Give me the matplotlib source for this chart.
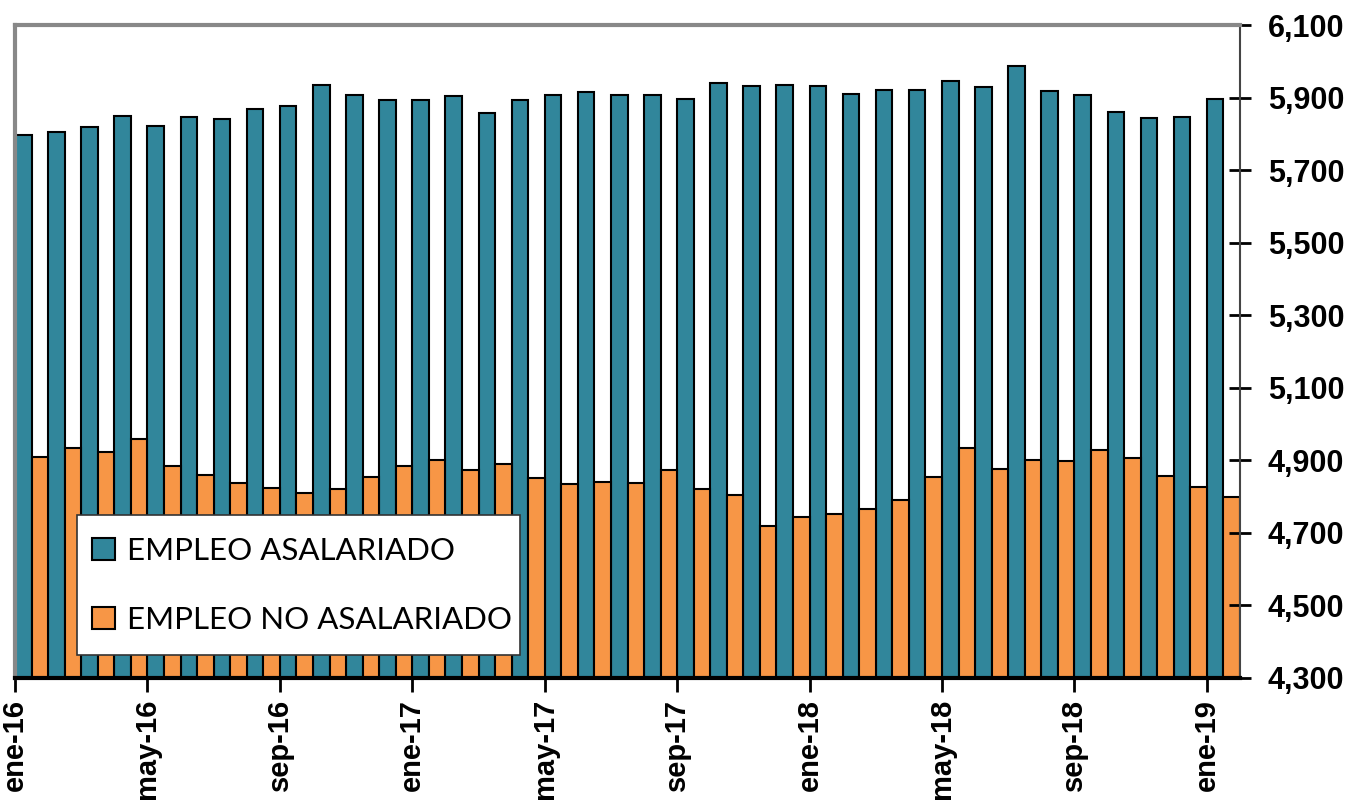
import numpy as np
import matplotlib.pyplot as plt
from matplotlib.patches import Rectangle
from matplotlib.ticker import FuncFormatter

meses = ['ene', 'feb', 'mar', 'abr', 'may', 'jun', 'jul', 'ago', 'sep', 'oct', 'nov', 'dic']
periodos = [f'{meses[i % 12]}-{16 + i // 12}' for i in range(37)]

asalariado = [5796, 5804, 5818, 5850, 5822, 5847, 5842, 5868, 5878, 5934,
              5906, 5893, 5893, 5903, 5857, 5893, 5906, 5914, 5906, 5906,
              5896, 5939, 5932, 5934, 5932, 5910, 5921, 5921, 5945, 5928,
              5987, 5918, 5906, 5861, 5843, 5847, 5896]
no_asalariado = [4909, 4933, 4923, 4958, 4884, 4859, 4838, 4823, 4809, 4820,
                 4853, 4884, 4900, 4873, 4891, 4851, 4834, 4841, 4837, 4872,
                 4820, 4805, 4720, 4744, 4752, 4766, 4791, 4854, 4935, 4876,
                 4900, 4897, 4928, 4907, 4857, 4826, 4800]

azul = '#31869B'
naranja = '#F79646'
y_min, y_max = 4300, 6100

fig = plt.figure(figsize=(13.55, 8.02), dpi=100)
ax = fig.add_axes([15 / 1355, 1 - 678 / 802, 1225 / 1355, 653 / 802])

x = np.arange(len(periodos))
ax.bar(x, np.array(asalariado) - y_min, bottom=y_min, width=0.5, align='edge',
       color=azul, edgecolor='black', linewidth=1.5, label='EMPLEO ASALARIADO')
ax.bar(x + 0.5, np.array(no_asalariado) - y_min, bottom=y_min, width=0.5, align='edge',
       color=naranja, edgecolor='black', linewidth=1.5, label='EMPLEO NO ASALARIADO')

ax.set_xlim(0, len(periodos))
ax.set_ylim(y_min, y_max)

# eje y a la derecha
ax.yaxis.tick_right()
ax.set_yticks(np.arange(y_min, y_max + 1, 200))
ax.yaxis.set_major_formatter(FuncFormatter(lambda v, p: f'{int(v):,}'))
ax.tick_params(axis='y', direction='inout', length=16, width=2, color='black',
               labelsize=22, pad=12)
for t in ax.get_yticklabels():
    t.set_fontweight('bold')
    t.set_family('Liberation Sans')

ax.set_xticks(x[::4])
ax.set_xticklabels(periodos[::4], rotation=90, fontsize=21, fontweight='bold',
                   family='Liberation Sans')
ax.tick_params(axis='x', direction='out', length=10, width=2, color='black', pad=5)

ax.spines['top'].set_color('#888888')
ax.spines['top'].set_linewidth(3)
ax.spines['left'].set_color('#888888')
ax.spines['left'].set_linewidth(3)
ax.spines['right'].set_color('#444444')
ax.spines['right'].set_linewidth(1.5)
ax.spines['bottom'].set_color('black')
ax.spines['bottom'].set_linewidth(3)

# caja de la leyenda
caja = Rectangle((0.0506, 0.0352), 0.3616, 0.2144, transform=ax.transAxes,
                 facecolor='white', edgecolor='#333333', linewidth=1.2, zorder=4.5)
ax.add_patch(caja)
leg = ax.legend(loc='center left', bbox_to_anchor=(0.0629, 0.142), borderaxespad=0,
                frameon=False, prop={'family': 'Lato', 'size': 22.5},
                handlelength=0.72, handleheight=0.72, handletextpad=0.4,
                labelspacing=1.3, borderpad=0)

plt.savefig('out.png', dpi=100)
plt.close()
